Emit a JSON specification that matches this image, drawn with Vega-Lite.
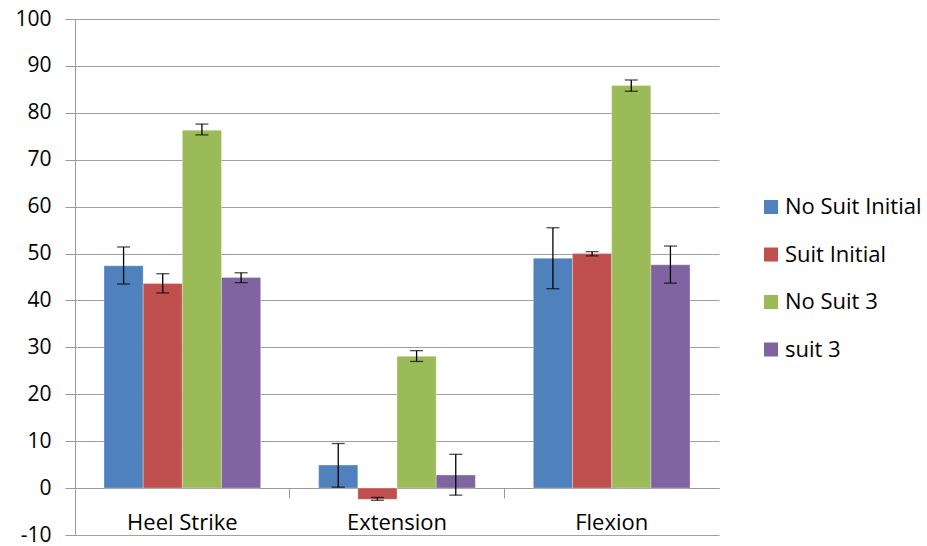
{
  "$schema": "https://vega.github.io/schema/vega-lite/v6.json",
  "width": 644,
  "height": 516,
  "autosize": "none",
  "padding": {"left": 75, "top": 19, "right": 208, "bottom": 11},
  "config": {"view": {"stroke": null}, "font": "Open Sans", "background": "white"},
  "data": {
    "values": [
      {"joint": "Heel Strike", "series": "No Suit Initial", "value": 47.4, "lo": 43.5, "hi": 51.4},
      {"joint": "Heel Strike", "series": "Suit Initial", "value": 43.6, "lo": 41.6, "hi": 45.7},
      {"joint": "Heel Strike", "series": "No Suit 3", "value": 76.3, "lo": 75.3, "hi": 77.6},
      {"joint": "Heel Strike", "series": "suit 3", "value": 44.9, "lo": 43.8, "hi": 45.9},
      {"joint": "Extension", "series": "No Suit Initial", "value": 4.9, "lo": 0.2, "hi": 9.5},
      {"joint": "Extension", "series": "Suit Initial", "value": -2.4, "lo": -2.6, "hi": -2.0},
      {"joint": "Extension", "series": "No Suit 3", "value": 28.1, "lo": 27.0, "hi": 29.3},
      {"joint": "Extension", "series": "suit 3", "value": 2.8, "lo": -1.5, "hi": 7.2},
      {"joint": "Flexion", "series": "No Suit Initial", "value": 49.0, "lo": 42.5, "hi": 55.5},
      {"joint": "Flexion", "series": "Suit Initial", "value": 50.0, "lo": 49.5, "hi": 50.4},
      {"joint": "Flexion", "series": "No Suit 3", "value": 85.8, "lo": 84.6, "hi": 87.0},
      {"joint": "Flexion", "series": "suit 3", "value": 47.6, "lo": 43.7, "hi": 51.6}
    ]
  },
  "encoding": {
    "x": {
      "field": "joint", "type": "nominal",
      "sort": ["Heel Strike", "Extension", "Flexion"],
      "scale": {"paddingInner": 0, "paddingOuter": 0},
      "axis": {
        "title": null, "offset": -47, "bandPosition": 0, "labelAngle": 0,
        "domainColor": "#999999", "tickColor": "#999999", "tickSize": 10,
        "labelFontSize": 22, "labelColor": "#000000", "labelPadding": 14,
        "labelBaseline": "top"
      }
    },
    "xOffset": {
      "field": "series", "type": "nominal",
      "sort": ["No Suit Initial", "Suit Initial", "No Suit 3", "suit 3"],
      "scale": {"paddingInner": 0, "paddingOuter": 0.74}
    }
  },
  "layer": [
    {
      "mark": {"type": "bar", "stroke": "white", "strokeWidth": 0.5, "strokeOpacity": 0.6},
      "encoding": {
        "y": {
          "field": "value", "type": "quantitative",
          "scale": {"domain": [-10, 100], "nice": false},
          "axis": {
            "title": null, "values": [-10, 0, 10, 20, 30, 40, 50, 60, 70, 80, 90, 100],
            "labelExpr": "datum.value + ''",
            "grid": true, "gridColor": "#a0a0a0", "domainColor": "#999999",
            "tickColor": "#999999", "tickSize": 10, "labelFontSize": 21,
            "labelColor": "#000000", "labelPadding": 14
          }
        },
        "color": {
          "field": "series", "type": "nominal",
          "sort": ["No Suit Initial", "Suit Initial", "No Suit 3", "suit 3"],
          "scale": {
            "domain": ["No Suit Initial", "Suit Initial", "No Suit 3", "suit 3"],
            "range": ["#4F81BD", "#C0504D", "#9BBB59", "#8064A2"]
          },
          "legend": {
            "title": null, "orient": "none", "legendX": 685, "legendY": 177,
            "symbolType": "square", "symbolSize": 196, "symbolStrokeWidth": 0,
            "labelFontSize": 22, "labelColor": "#000000", "rowPadding": 25.5,
            "labelOffset": 3, "padding": 0
          }
        }
      }
    },
    {
      "mark": {"type": "rule", "color": "black", "strokeWidth": 1.3},
      "encoding": {
        "y": {"field": "lo", "type": "quantitative"},
        "y2": {"field": "hi"}
      }
    },
    {
      "mark": {"type": "tick", "color": "black", "size": 13, "thickness": 1.3},
      "encoding": {"y": {"field": "lo", "type": "quantitative"}}
    },
    {
      "mark": {"type": "tick", "color": "black", "size": 13, "thickness": 1.3},
      "encoding": {"y": {"field": "hi", "type": "quantitative"}}
    }
  ]
}
